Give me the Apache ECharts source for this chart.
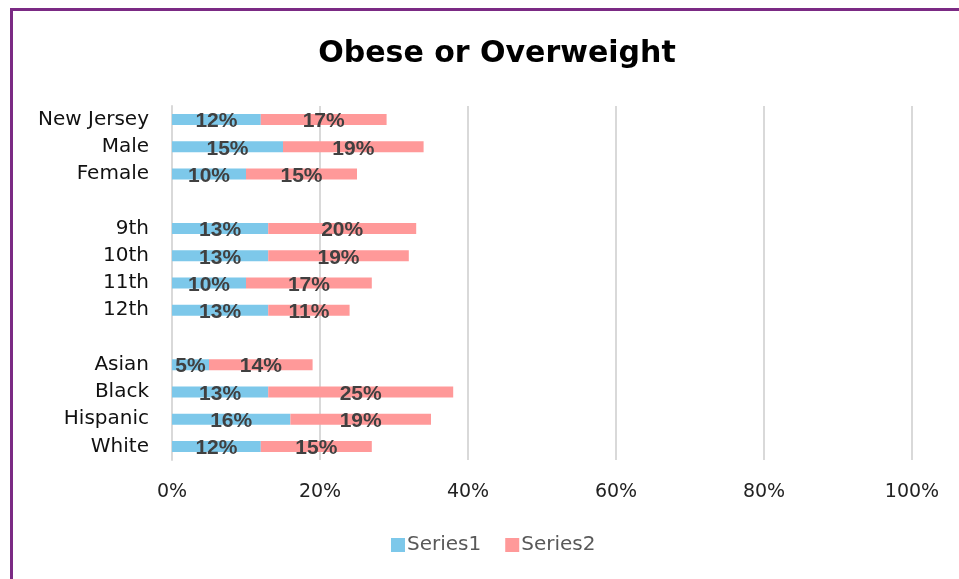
<!DOCTYPE html>
<html>
<head>
<meta charset="utf-8">
<script src="https://cdn.jsdelivr.net/npm/echarts@6/dist/echarts.min.js"></script>
<style>
  html, body { margin: 0; padding: 0; background: #fff; }
  #frame { position: absolute; left: 10px; top: 8px; width: 960px; height: 580px;
           border-left: 3px solid #7B2A84; border-top: 3px solid #7B2A84; box-sizing: border-box; }
  #chart { position: absolute; left: 0; top: 0; width: 959px; height: 579px; }
</style>
</head>
<body>
<div id="frame"></div>
<div id="chart"></div>
<script>
// Groups: overall, sex, grade, race/ethnicity (blank rows separate the groups)
const categories = ['New Jersey', 'Male', 'Female', '', '9th', '10th', '11th', '12th', ' ', 'Asian', 'Black', 'Hispanic', 'White'];
const series1 = [12, 15, 10, null, 13, 13, 10, 13, null, 5, 13, 16, 12];
const series2 = [17, 19, 15, null, 20, 19, 17, 11, null, 14, 25, 19, 15];
const xTicks = [0, 20, 40, 60, 80, 100];

const FONT = '"DejaVu Sans", "Liberation Sans", sans-serif';
const LABEL_FONT = '"Liberation Sans", Arial, sans-serif';
const chart = echarts.init(document.getElementById('chart'), null, { renderer: 'canvas' });

const labelStyle = {
  show: true,
  position: 'inside',
  formatter: p => p.value + '%',
  color: '#404040',
  fontFamily: LABEL_FONT,
  fontWeight: 'bold',
  fontSize: 21,
  offset: [0, 2]
};

chart.setOption({
  animation: false,
  title: {
    text: 'Obese or Overweight',
    left: 492,
    textAlign: 'center',
    top: 34,
    textStyle: { fontFamily: FONT, fontWeight: 'bold', fontSize: 30, color: '#000' }
  },
  legend: {
    bottom: 19,
    left: 386,
    itemWidth: 14,
    itemHeight: 14,
    itemGap: 24,
    icon: 'rect',
    textStyle: { fontFamily: FONT, fontSize: 20, color: '#595959', padding: [0, 0, 0, -3] },
    data: ['Series1', 'Series2']
  },
  grid: { left: 172, right: 47, top: 106, height: 354, containLabel: false },
  xAxis: {
    type: 'value',
    min: 0,
    max: 100,
    interval: 20,
    axisLine: { show: false },
    axisTick: { show: false },
    splitLine: { lineStyle: { color: '#d9d9d9', width: 2 } },
    axisLabel: {
      formatter: v => xTicks.includes(v) ? v + '%' : '',
      fontFamily: FONT,
      fontSize: 19,
      color: '#222',
      margin: 23
    }
  },
  yAxis: {
    type: 'category',
    inverse: true,
    data: categories,
    axisLine: { show: true, lineStyle: { color: '#d9d9d9', width: 2 } },
    axisTick: { show: false },
    axisLabel: {
      fontFamily: FONT,
      fontSize: 20,
      color: '#111',
      margin: 23
    }
  },
  series: [
    {
      name: 'Series1', type: 'bar', stack: 'total', data: series1,
      barWidth: 11,
      itemStyle: { color: '#7DC8EA' },
      label: labelStyle
    },
    {
      name: 'Series2', type: 'bar', stack: 'total', data: series2,
      barWidth: 11,
      itemStyle: { color: '#FF9999' },
      label: labelStyle
    }
  ]
});
</script>
</body>
</html>
